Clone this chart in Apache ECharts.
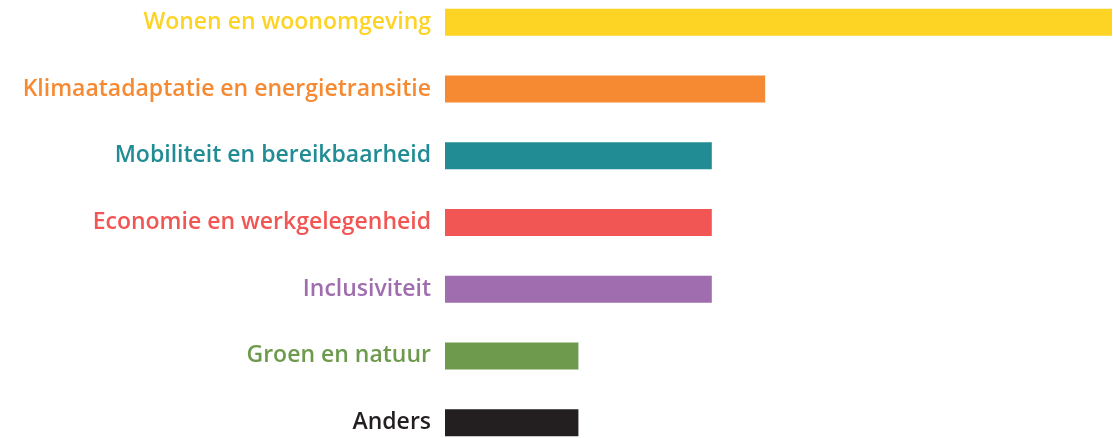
<!DOCTYPE html>
<html><head><meta charset="utf-8">
<script src="https://cdn.jsdelivr.net/npm/echarts@6/dist/echarts.min.js"></script>
<style>html,body{margin:0;padding:0;background:#fff;overflow:hidden}#c{position:relative;top:-11px;width:1113px;height:467px}</style>
</head><body><div id="c"></div>
<script>
const categories = ["Wonen en woonomgeving","Klimaatadaptatie en energietransitie","Mobiliteit en bereikbaarheid","Economie en werkgelegenheid","Inclusiviteit","Groen en natuur","Anders"];
const values = [25,12,10,10,10,5,5];
const colors = ["#FDD324","#F68A33","#218C93","#F15654","#A06DAE","#6E9A4E","#231F20"];

const chart = echarts.init(document.getElementById('c'));
chart.setOption({
  animation:false,
  grid:{left:445,right:1,top:0,bottom:0},
  xAxis:{type:'value',min:0,max:25,show:false},
  yAxis:{type:'category',inverse:true,data:categories,
    axisLine:{show:false},axisTick:{show:false},
    axisLabel:{margin:14,fontFamily:'Open Sans',fontWeight:600,fontSize:23,padding:[3,0,0,0],
      color:(v,i)=>colors[i]}},
  series:[{type:'bar',barWidth:27,
    data:values.map((v,i)=>({value:v,itemStyle:{color:colors[i]}}))}]
});
</script></body></html>
